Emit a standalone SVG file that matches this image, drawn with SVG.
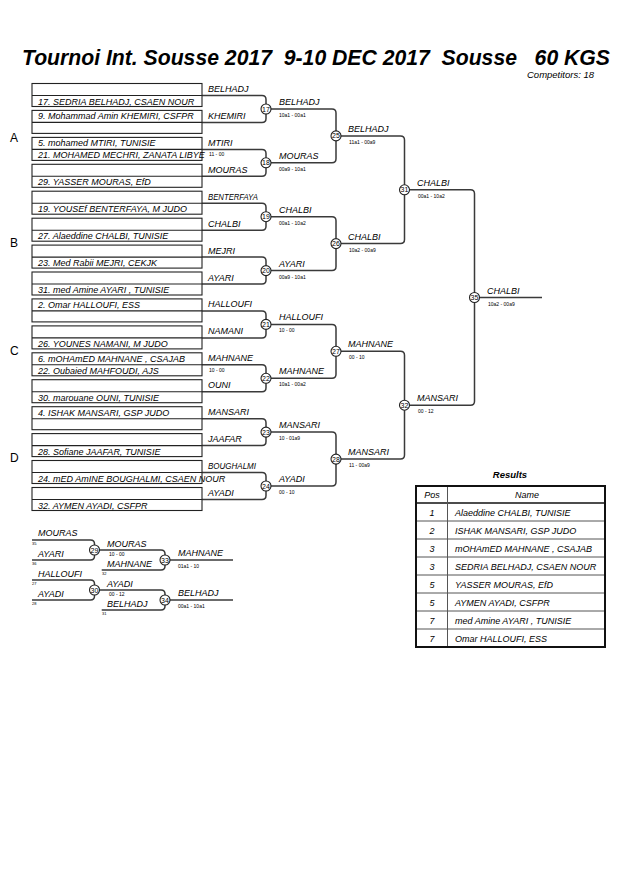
<svg xmlns="http://www.w3.org/2000/svg" width="630" height="891" viewBox="0 0 630 891">
<style>
text{font-family:"Liberation Sans",Arial,sans-serif;fill:#000}
.ttl{font-size:21.2px;font-weight:bold;font-style:italic}
.cmp{font-size:9.5px;font-style:italic}
.nm{font-size:9px;font-style:italic}
.lb{font-size:9px;font-style:italic}
.sc{font-size:5px}
.tn{font-size:4px}
.cn{font-size:7px;text-anchor:middle}
.pl{font-size:12px}
.box{fill:none;stroke:#222;stroke-width:1.1}
.ln{fill:none;stroke:#3a3a3a;stroke-width:1.5}
.cc{fill:#fff;stroke:#222;stroke-width:1.1}
.tb{fill:none;stroke:#111;stroke-width:2}
.tl{stroke:#555;stroke-width:1}
.th{font-size:9.5px;font-weight:bold;font-style:italic;text-anchor:middle}
.hd{font-size:9px;font-style:italic;text-anchor:middle}
</style>
<defs>
<g id="blk"><rect class="box" x="32" y="0" width="170" height="23"/><line class="box" x1="32" y1="12" x2="202" y2="12"/></g>
<circle id="cir" class="cc" r="5"/>
</defs>

<text class="ttl" x="22" y="65" xml:space="preserve">Tournoi Int. Sousse 2017  9-10 DEC 2017  Sousse   60 KGS</text>
<text class="cmp" x="527" y="78">Competitors: 18</text>

<g id="pools">
<text class="pl" x="10" y="142">A</text>
<text class="pl" x="10" y="247">B</text>
<text class="pl" x="10" y="355">C</text>
<text class="pl" x="10" y="462">D</text>
</g>

<g id="connectors">
<path class="ln" d="M202 95.5H262Q266 95.5 266 99.5V118.4Q266 122.4 262 122.4H202"/>
<path class="ln" d="M202 149.4H262Q266 149.4 266 153.4V172.3Q266 176.3 262 176.3H202"/>
<path class="ln" d="M202 203.2H262Q266 203.2 266 207.2V226.2Q266 230.2 262 230.2H202"/>
<path class="ln" d="M202 257.1H262Q266 257.1 266 261.1V280Q266 284 262 284H202"/>
<path class="ln" d="M202 310.9H262Q266 310.9 266 314.9V333.9Q266 337.9 262 337.9H202"/>
<path class="ln" d="M202 364.8H262Q266 364.8 266 368.8V387.7Q266 391.7 262 391.7H202"/>
<path class="ln" d="M202 418.7H262Q266 418.7 266 422.7V441.6Q266 445.6 262 445.6H202"/>
<path class="ln" d="M202 472.5H262Q266 472.5 266 476.5V495.5Q266 499.5 262 499.5H202"/>

<path class="ln" d="M266 109H332Q336 109 336 113V158.8Q336 162.8 332 162.8H266"/>
<path class="ln" d="M266 216.7H332Q336 216.7 336 220.7V266.6Q336 270.6 332 270.6H266"/>
<path class="ln" d="M266 324.4H332Q336 324.4 336 328.4V374.3Q336 378.3 332 378.3H266"/>
<path class="ln" d="M266 432.1H332Q336 432.1 336 436.1V482Q336 486 332 486H266"/>

<path class="ln" d="M336 135.9H400.5Q404.5 135.9 404.5 139.9V239.6Q404.5 243.6 400.5 243.6H336"/>
<path class="ln" d="M336 351.3H400.5Q404.5 351.3 404.5 355.3V455.1Q404.5 459.1 400.5 459.1H336"/>

<path class="ln" d="M404.5 189.8H470.5Q474.5 189.8 474.5 193.8V401.2Q474.5 405.2 470.5 405.2H404.5"/>
<path class="ln" d="M474.5 297.5H542"/>

<path class="ln" d="M32 540H90.5Q94.5 540 94.5 544V556Q94.5 560 90.5 560H32"/>
<path class="ln" d="M94.5 550H161Q165 550 165 554V566Q165 570 161 570H101.7"/>
<path class="ln" d="M165 560H233"/>
<path class="ln" d="M32 580H90.5Q94.5 580 94.5 584V596Q94.5 600 90.5 600H32"/>
<path class="ln" d="M94.5 590H161Q165 590 165 594V606Q165 610 161 610H101.7"/>
<path class="ln" d="M165 600H233"/>
</g>

<g id="b0" transform="translate(0,83.5)"><use href="#blk"/><text class="nm" x="38" y="21">17. SEDRIA BELHADJ, CSAEN NOUR</text><text class="lb" x="208" y="8.5">BELHADJ</text></g>
<g id="b1" transform="translate(0,110.4)"><use href="#blk"/><text class="nm" x="38" y="9">9. Mohammad Amin KHEMIRI, CSFPR</text><text class="lb" x="208" y="8.5">KHEMIRI</text></g>
<g id="b2" transform="translate(0,137.4)"><use href="#blk"/><text class="nm" x="38" y="9">5. mohamed MTIRI, TUNISIE</text><text class="nm" x="38" y="21">21. MOHAMED MECHRI, ZANATA LIBYE</text><text class="lb" x="208" y="8.5">MTIRI</text><text class="sc" x="209" y="19">11 - 00</text></g>
<g id="b3" transform="translate(0,164.3)"><use href="#blk"/><text class="nm" x="38" y="21">29. YASSER MOURAS, EfD</text><text class="lb" x="208" y="8.5">MOURAS</text></g>
<g id="b4" transform="translate(0,191.2)"><use href="#blk"/><text class="nm" x="38" y="21">19. YOUSEf BENTERFAYA, M JUDO</text><text class="lb" x="208" y="8.5" textLength="50" lengthAdjust="spacingAndGlyphs">BENTERFAYA</text></g>
<g id="b5" transform="translate(0,218.2)"><use href="#blk"/><text class="nm" x="38" y="21">27. Alaeddine CHALBI, TUNISIE</text><text class="lb" x="208" y="8.5">CHALBI</text></g>
<g id="b6" transform="translate(0,245.1)"><use href="#blk"/><text class="nm" x="38" y="21">23. Med Rabii MEJRI, CEKJK</text><text class="lb" x="208" y="8.5">MEJRI</text></g>
<g id="b7" transform="translate(0,272)"><use href="#blk"/><text class="nm" x="38" y="21">31. med Amine AYARI , TUNISIE</text><text class="lb" x="208" y="8.5">AYARI</text></g>
<g id="b8" transform="translate(0,298.9)"><use href="#blk"/><text class="nm" x="38" y="9">2. Omar HALLOUFI, ESS</text><text class="lb" x="208" y="8.5">HALLOUFI</text></g>
<g id="b9" transform="translate(0,325.9)"><use href="#blk"/><text class="nm" x="38" y="21">26. YOUNES NAMANI, M JUDO</text><text class="lb" x="208" y="8.5">NAMANI</text></g>
<g id="b10" transform="translate(0,352.8)"><use href="#blk"/><text class="nm" x="38" y="9">6. mOHAmED MAHNANE , CSAJAB</text><text class="nm" x="38" y="21">22. Oubaied MAHFOUDI, AJS</text><text class="lb" x="208" y="8.5">MAHNANE</text><text class="sc" x="209" y="19">10 - 00</text></g>
<g id="b11" transform="translate(0,379.7)"><use href="#blk"/><text class="nm" x="38" y="21">30. marouane OUNI, TUNISIE</text><text class="lb" x="208" y="8.5">OUNI</text></g>
<g id="b12" transform="translate(0,406.7)"><use href="#blk"/><text class="nm" x="38" y="9">4. ISHAK MANSARI, GSP JUDO</text><text class="lb" x="208" y="8.5">MANSARI</text></g>
<g id="b13" transform="translate(0,433.6)"><use href="#blk"/><text class="nm" x="38" y="21">28. Sofiane JAAFAR, TUNISIE</text><text class="lb" x="208" y="8.5">JAAFAR</text></g>
<g id="b14" transform="translate(0,460.5)"><use href="#blk"/><text class="nm" x="38" y="21">24. mED AmINE BOUGHALMI, CSAEN NOUR</text><text class="lb" x="208" y="8.5" textLength="48" lengthAdjust="spacingAndGlyphs">BOUGHALMI</text></g>
<g id="b15" transform="translate(0,487.5)"><use href="#blk"/><text class="nm" x="38" y="21">32. AYMEN AYADI, CSFPR</text><text class="lb" x="208" y="8.5">AYADI</text></g>

<g id="m17" transform="translate(266,109)"><use href="#cir"/><text class="cn" y="2.5">17</text><text class="lb" x="13" y="-4">BELHADJ</text><text class="sc" x="13" y="8">10a1 - 00a1</text></g>
<g id="m18" transform="translate(266,162.8)"><use href="#cir"/><text class="cn" y="2.5">18</text><text class="lb" x="13" y="-4">MOURAS</text><text class="sc" x="13" y="8">00a9 - 10a1</text></g>
<g id="m19" transform="translate(266,216.7)"><use href="#cir"/><text class="cn" y="2.5">19</text><text class="lb" x="13" y="-4">CHALBI</text><text class="sc" x="13" y="8">00a1 - 10a2</text></g>
<g id="m20" transform="translate(266,270.6)"><use href="#cir"/><text class="cn" y="2.5">20</text><text class="lb" x="13" y="-4">AYARI</text><text class="sc" x="13" y="8">00a9 - 10a1</text></g>
<g id="m21" transform="translate(266,324.4)"><use href="#cir"/><text class="cn" y="2.5">21</text><text class="lb" x="13" y="-4">HALLOUFI</text><text class="sc" x="13" y="8">10 - 00</text></g>
<g id="m22" transform="translate(266,378.3)"><use href="#cir"/><text class="cn" y="2.5">22</text><text class="lb" x="13" y="-4">MAHNANE</text><text class="sc" x="13" y="8">10a1 - 00a2</text></g>
<g id="m23" transform="translate(266,432.1)"><use href="#cir"/><text class="cn" y="2.5">23</text><text class="lb" x="13" y="-4">MANSARI</text><text class="sc" x="13" y="8">10 - 01a9</text></g>
<g id="m24" transform="translate(266,486)"><use href="#cir"/><text class="cn" y="2.5">24</text><text class="lb" x="13" y="-4">AYADI</text><text class="sc" x="13" y="8">00 - 10</text></g>

<g id="m25" transform="translate(336,135.9)"><use href="#cir"/><text class="cn" y="2.5">25</text><text class="lb" x="12" y="-4">BELHADJ</text><text class="sc" x="13" y="8">11a1 - 00a9</text></g>
<g id="m26" transform="translate(336,243.6)"><use href="#cir"/><text class="cn" y="2.5">26</text><text class="lb" x="12" y="-4">CHALBI</text><text class="sc" x="13" y="8">10a2 - 00a9</text></g>
<g id="m27" transform="translate(336,351.3)"><use href="#cir"/><text class="cn" y="2.5">27</text><text class="lb" x="12" y="-4">MAHNANE</text><text class="sc" x="13" y="8">00 - 10</text></g>
<g id="m28" transform="translate(336,459.1)"><use href="#cir"/><text class="cn" y="2.5">28</text><text class="lb" x="12" y="-4">MANSARI</text><text class="sc" x="13" y="8">11 - 00a9</text></g>

<g id="m31" transform="translate(404.5,189.8)"><use href="#cir"/><text class="cn" y="2.5">31</text><text class="lb" x="12.5" y="-4">CHALBI</text><text class="sc" x="13.5" y="8">00a1 - 10a2</text></g>
<g id="m32" transform="translate(404.5,405.2)"><use href="#cir"/><text class="cn" y="2.5">32</text><text class="lb" x="12.5" y="-4">MANSARI</text><text class="sc" x="13.5" y="8">00 - 12</text></g>

<g id="m35" transform="translate(474.5,297.5)"><use href="#cir"/><text class="cn" y="2.5">35</text><text class="lb" x="12.5" y="-4">CHALBI</text><text class="sc" x="13.5" y="8">10a2 - 00a9</text></g>

<g id="rep">
<text class="lb" x="38" y="536">MOURAS</text><text class="tn" x="32" y="545">35</text>
<text class="lb" x="38" y="556.5">AYARI</text><text class="tn" x="32" y="565">36</text>
<text class="lb" x="38" y="576.5">HALLOUFI</text><text class="tn" x="32" y="585">27</text>
<text class="lb" x="38" y="596.5">AYADI</text><text class="tn" x="32" y="605">28</text>
<text class="lb" x="107" y="546.5">MOURAS</text><text class="sc" x="109" y="556">10 - 00</text>
<text class="lb" x="107" y="566.5">MAHNANE</text><text class="tn" x="102" y="575">32</text>
<text class="lb" x="107" y="586.5">AYADI</text><text class="sc" x="109" y="596">00 - 12</text>
<text class="lb" x="107" y="606.5">BELHADJ</text><text class="tn" x="102" y="615">31</text>
<text class="lb" x="178" y="556">MAHNANE</text><text class="sc" x="178" y="568">01a1 - 10</text>
<text class="lb" x="178" y="596">BELHADJ</text><text class="sc" x="178" y="608">00a1 - 10a1</text>
</g>
<g id="m29" transform="translate(94.5,550)"><use href="#cir"/><text class="cn" y="2.5">29</text></g>
<g id="m30" transform="translate(94.5,590)"><use href="#cir"/><text class="cn" y="2.5">30</text></g>
<g id="m33" transform="translate(165,560)"><use href="#cir"/><text class="cn" y="2.5">33</text></g>
<g id="m34" transform="translate(165,600)"><use href="#cir"/><text class="cn" y="2.5">34</text></g>

<g id="results">
<text class="th" x="510" y="478">Results</text>
<line class="tl" x1="416" y1="521" x2="605" y2="521"/>
<line class="tl" x1="416" y1="539" x2="605" y2="539"/>
<line class="tl" x1="416" y1="557" x2="605" y2="557"/>
<line class="tl" x1="416" y1="575" x2="605" y2="575"/>
<line class="tl" x1="416" y1="593" x2="605" y2="593"/>
<line class="tl" x1="416" y1="611" x2="605" y2="611"/>
<line class="tl" x1="416" y1="629" x2="605" y2="629"/>
<line x1="416" y1="503" x2="605" y2="503" stroke="#111" stroke-width="1.5"/>
<line class="tl" x1="447.5" y1="486" x2="447.5" y2="647"/>
<rect class="tb" x="416" y="486" width="189" height="161"/>
<text class="hd" x="432" y="498">Pos</text>
<text class="hd" x="527" y="498">Name</text>
<g class="hd"><text class="hd" x="432" y="515.5">1</text><text class="hd" x="432" y="533.5">2</text><text class="hd" x="432" y="551.5">3</text><text class="hd" x="432" y="569.5">3</text><text class="hd" x="432" y="587.5">5</text><text class="hd" x="432" y="605.5">5</text><text class="hd" x="432" y="623.5">7</text><text class="hd" x="432" y="641.5">7</text></g>
<text class="nm" x="455" y="515.5">Alaeddine CHALBI, TUNISIE</text>
<text class="nm" x="455" y="533.5">ISHAK MANSARI, GSP JUDO</text>
<text class="nm" x="455" y="551.5">mOHAmED MAHNANE , CSAJAB</text>
<text class="nm" x="455" y="569.5">SEDRIA BELHADJ, CSAEN NOUR</text>
<text class="nm" x="455" y="587.5">YASSER MOURAS, EfD</text>
<text class="nm" x="455" y="605.5">AYMEN AYADI, CSFPR</text>
<text class="nm" x="455" y="623.5">med Amine AYARI , TUNISIE</text>
<text class="nm" x="455" y="641.5">Omar HALLOUFI, ESS</text>
</g>
</svg>
